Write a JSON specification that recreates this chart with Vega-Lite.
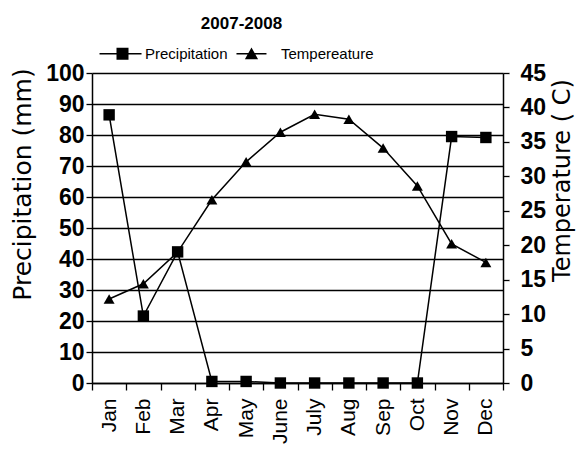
{
  "$schema": "https://vega.github.io/schema/vega-lite/v6.json",
  "autosize": "none",
  "width": 411,
  "height": 310,
  "padding": {"left": 92, "top": 73, "right": 73, "bottom": 68},
  "background": "white",
  "config": {
    "view": {"stroke": null},
    "font": "Liberation Sans",
    "legend": {
      "title": null,
      "orient": "none",
      "direction": "horizontal",
      "legendX": 23,
      "legendY": -27,
      "labelFont": "Liberation Sans",
      "labelFontSize": 15,
      "labelColor": "black",
      "labelOffset": 15,
      "symbolSize": 144,
      "symbolOpacity": 1,
      "symbolFillColor": "black",
      "symbolStrokeColor": "black",
      "symbolStrokeWidth": 0,
      "columnPadding": 8
    }
  },
  "title": {
    "text": "2007-2008",
    "font": "Liberation Sans",
    "fontSize": 17,
    "fontWeight": "bold",
    "color": "black",
    "anchor": "middle",
    "frame": "group",
    "dx": -56,
    "dy": -9
  },
  "data": {
    "values": [
      {"month": "Jan", "precip": 86.5, "temp": 12.2},
      {"month": "Feb", "precip": 21.6, "temp": 14.4},
      {"month": "Mar", "precip": 42.3, "temp": 19.0},
      {"month": "Apr", "precip": 0.5, "temp": 26.6},
      {"month": "May", "precip": 0.5, "temp": 32.1},
      {"month": "June", "precip": 0, "temp": 36.4},
      {"month": "July", "precip": 0, "temp": 39.0},
      {"month": "Aug", "precip": 0, "temp": 38.3},
      {"month": "Sep", "precip": 0, "temp": 34.1},
      {"month": "Oct", "precip": 0, "temp": 28.6},
      {"month": "Nov", "precip": 79.5, "temp": 20.2},
      {"month": "Dec", "precip": 79.2, "temp": 17.5}
    ]
  },
  "encoding": {
    "x": {
      "field": "month",
      "type": "nominal",
      "sort": null,
      "scale": {"type": "band", "paddingInner": 0, "paddingOuter": 0},
      "axis": {
        "title": null,
        "tickBand": "extent",
        "labelAngle": -90,
        "labelFont": "Liberation Sans",
        "labelFontSize": 21,
        "labelColor": "black",
        "labelPadding": 8,
        "tickSize": 7,
        "tickColor": "black",
        "tickWidth": 1.3,
        "domainColor": "black",
        "domainWidth": 1.5,
        "grid": false
      }
    }
  },
  "layer": [
    {
      "encoding": {
        "y": {
          "field": "precip",
          "type": "quantitative",
          "scale": {"domain": [0, 100], "nice": false},
          "axis": {
            "title": "Precipitation (mm)",
            "titleFont": "DejaVu Sans",
            "titleFontSize": 25,
            "titleFontWeight": "normal",
            "titleColor": "black",
            "titleAngle": -90,
            "titleX": -70,
            "titleY": 111,
            "titleBaseline": "middle",
            "titleAlign": "center",
            "values": [0, 10, 20, 30, 40, 50, 60, 70, 80, 90, 100],
            "labelFont": "Liberation Sans",
            "labelFontSize": 23,
            "labelFontWeight": "bold",
            "labelColor": "black",
            "labelPadding": 2,
            "tickSize": 6,
            "tickColor": "black",
            "tickWidth": 1.3,
            "domainColor": "black",
            "domainWidth": 1.5,
            "grid": true,
            "gridColor": "black",
            "gridWidth": 1.3,
            "gridOpacity": 1
          }
        }
      },
      "layer": [
        {"mark": {"type": "line", "color": "black", "strokeWidth": 1.5}},
        {"mark": {"type": "point", "filled": true, "color": "black", "opacity": 1, "size": 130, "shape": "square"}},
        {
          "mark": {"type": "point", "filled": true, "color": "black", "opacity": 0, "size": 130},
          "encoding": {
            "shape": {
              "datum": "Precipitation",
              "scale": {
                "domain": ["Precipitation", "Tempereature"],
                "range": ["M-3.83,-0.12H3.17V0.12H-3.83Z M-1,-1H1V1H-1Z", "M-3.67,-0.12H1.33V0.12H-3.67Z M-1.17,-1.05L-0.07,0.9H-2.27Z"]
              }
            }
          }
        }
      ]
    },
    {
      "encoding": {
        "y": {
          "field": "temp",
          "type": "quantitative",
          "scale": {"domain": [0, 45], "nice": false},
          "axis": {
            "orient": "right",
            "title": "Temperature ( C)",
            "titleFont": "DejaVu Sans",
            "titleFontSize": 24,
            "titleFontWeight": "normal",
            "titleColor": "black",
            "titleAngle": -90,
            "titleX": 59,
            "titleY": 107,
            "titleBaseline": "middle",
            "titleAlign": "center",
            "values": [0, 5, 10, 15, 20, 25, 30, 35, 40, 45],
            "labelFont": "Liberation Sans",
            "labelFontSize": 23,
            "labelFontWeight": "bold",
            "labelColor": "black",
            "labelPadding": 11,
            "tickSize": 6,
            "tickColor": "black",
            "tickWidth": 1.3,
            "domainColor": "black",
            "domainWidth": 1.5,
            "grid": false
          }
        }
      },
      "layer": [
        {"mark": {"type": "line", "color": "black", "strokeWidth": 1.5}},
        {"mark": {"type": "point", "filled": true, "color": "black", "opacity": 1, "size": 120, "shape": "triangle-up"}},
        {
          "mark": {"type": "point", "filled": true, "color": "black", "opacity": 0, "size": 120},
          "encoding": {
            "shape": {
              "datum": "Tempereature",
              "scale": {
                "domain": ["Precipitation", "Tempereature"],
                "range": ["M-3.83,-0.12H3.17V0.12H-3.83Z M-1,-1H1V1H-1Z", "M-3.67,-0.12H1.33V0.12H-3.67Z M-1.17,-1.05L-0.07,0.9H-2.27Z"]
              }
            }
          }
        }
      ]
    }
  ],
  "resolve": {"scale": {"y": "independent"}}
}
